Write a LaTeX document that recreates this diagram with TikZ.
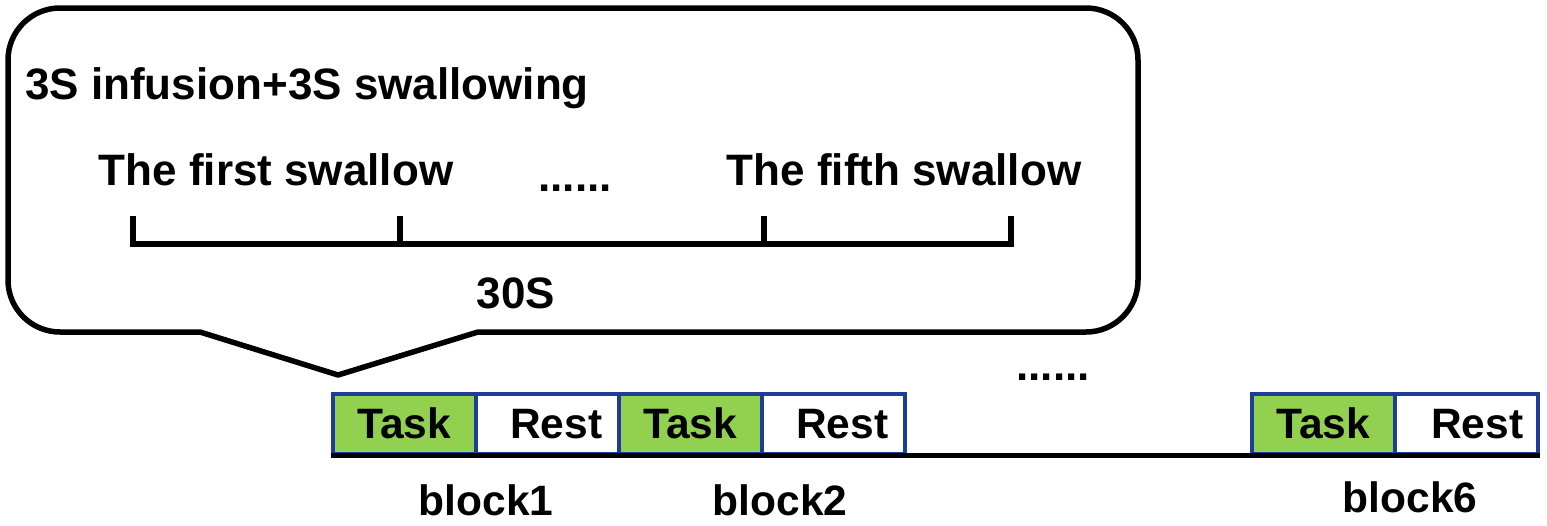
\documentclass[tikz,border=0pt]{standalone}
\usepackage{fontspec}
\setmainfont{Liberation Sans}
\definecolor{taskgreen}{HTML}{92D050}
\definecolor{boxblue}{HTML}{1F3C99}
\begin{document}
\begin{tikzpicture}[x=1pt,y=-1pt,
  lbl/.style={font=\fontsize{44}{44}\selectfont\bfseries, inner sep=0pt},
  smalllbl/.style={font=\fontsize{42.5}{42.5}\selectfont\bfseries, inner sep=0pt},
  cell/.style={minimum width=143pt, minimum height=60pt, draw=boxblue, line width=3.5pt, inner sep=0pt, anchor=north west, font=\fontsize{42.5}{42.5}\selectfont\bfseries},
  taskcell/.style={cell, fill=taskgreen},
  restcell/.style={cell, fill=white},
  thick line/.style={line width=5.5pt, black}
]
\useasboundingbox (0,0) rectangle (1547,525);
% callout
\def\r{52}
\draw[thick line, line join=round]
  (200,332) -- (8+\r,332) arc[start angle=90,end angle=180,radius=\r]
  -- (8,8+\r) arc[start angle=180,end angle=270,radius=\r]
  -- (1138-\r,8) arc[start angle=270,end angle=360,radius=\r]
  -- (1138,332-\r) arc[start angle=0,end angle=90,radius=\r]
  -- (478,332) -- (338,375) -- cycle;
\node[lbl, anchor=west] (title) at (25,88) {3S infusion+3S swallowing};
\node[lbl] (first) at (276,170) {The first swallow};
\node[lbl] (dots1) at (575,188) {......};
\node[lbl] (fifth) at (904,170) {The fifth swallow};
\node[lbl] (dur) at (516,293) {30S};
% timeline
\coordinate (t0) at (133,244);
\coordinate (t1) at (400,244);
\coordinate (t2) at (764,244);
\coordinate (t3) at (1011,244);
\coordinate (t0u) at (133,216);
\coordinate (t1u) at (400,216);
\coordinate (t2u) at (764,216);
\coordinate (t3u) at (1011,216);
\draw[thick line] (t0u) -- (t0) -- (t3) -- (t3u);
\draw[thick line] (t1) -- (t1u);
\draw[thick line] (t2) -- (t2u);
% blocks
\node[taskcell] (task1) at (331,392) {Task};
\node[restcell] (rest1) at (474,392) {\hspace*{18pt}Rest};
\node[taskcell] (task2) at (617,392) {Task};
\node[restcell] (rest2) at (760,392) {\hspace*{18pt}Rest};
\node[taskcell] (task6) at (1250,392) {\raisebox{-8pt}{Task}};
\node[restcell] (rest6) at (1393,392) {\hspace*{22pt}\raisebox{-5pt}{Rest}};
\node[lbl] (dots2) at (1053,377) {......};
% baseline
\draw[thick line] (task1.south west) -- (rest6.south east);
% block labels
\node[smalllbl] (b1) at (486,500) {block1};
\node[smalllbl] (b2) at (780,500) {block2};
\node[smalllbl] (b6) at (1410,497) {block6};
\end{tikzpicture}
\end{document}
